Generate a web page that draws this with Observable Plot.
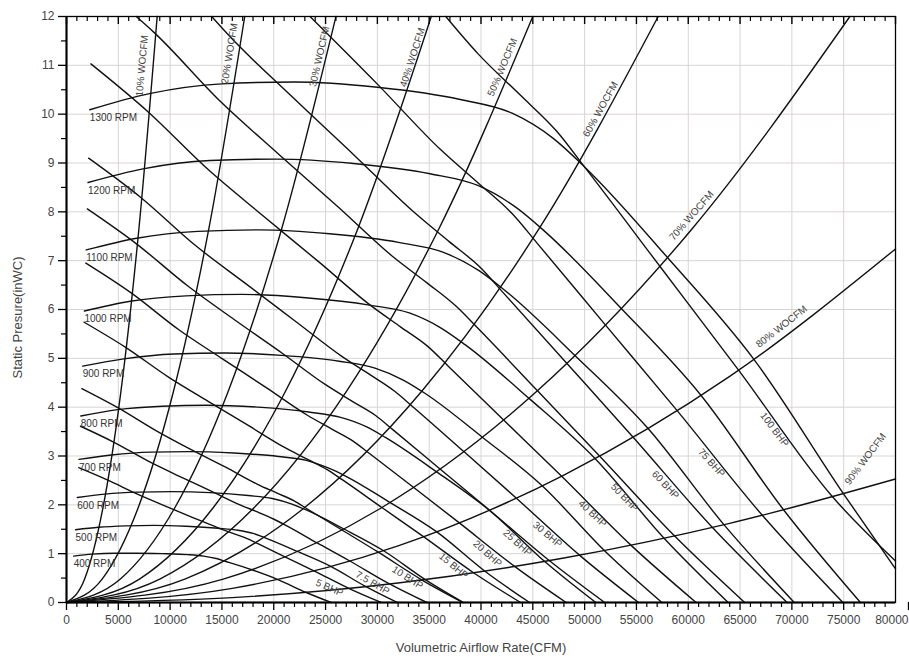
<!DOCTYPE html>
<html><head><meta charset="utf-8">
<script src="https://cdn.jsdelivr.net/npm/d3@7"></script>
<script src="https://cdn.jsdelivr.net/npm/@observablehq/plot@0.6"></script>
<style>
body{margin:0;background:#fff;}
#chart svg{display:block;}
</style></head><body><div id="chart"></div>
<script>
// ---------- fan speed curves ----------
const rpmValues = [1300, 1200, 1100, 1000, 900, 800, 700, 600, 500, 400];
const rpmFlow = [
 [2250, 8000, 15000, 22000, 30000, 38000, 43000, 47000, 50000, 58100, 66300, 75000, 80000],
 [2080, 7380, 13850, 20310, 27690, 35080, 39690, 43380, 46150, 53630, 61200, 69230, 76620],
 [1900, 6770, 12690, 18620, 25380, 32150, 36380, 39770, 42310, 49160, 56100, 63460, 70230],
 [1730, 6150, 11540, 16920, 23080, 29230, 33080, 36150, 38460, 44690, 51000, 57690, 63850],
 [1560, 5540, 10380, 15230, 20770, 26310, 29770, 32540, 34620, 40220, 45900, 51920, 57460],
 [1380, 4920, 9230, 13540, 18460, 23380, 26460, 28920, 30770, 35750, 40800, 46150, 51080],
 [1210, 4310, 8080, 11850, 16150, 20460, 23150, 25310, 26920, 31280, 35700, 40380, 44690],
 [1040, 3690, 6920, 10150, 13850, 17540, 19850, 21690, 23080, 26820, 30600, 34620, 38310],
 [870, 3080, 5770, 8460, 11540, 14620, 16540, 18080, 19230, 22350, 25500, 28850, 31920],
 [690, 2460, 4620, 6770, 9230, 11690, 13230, 14460, 15380, 17880, 20400, 23080, 25540]
];
const rpmPressure = [
 [10.09, 10.42, 10.62, 10.66, 10.55, 10.30, 10.02, 9.50, 8.92, 7.04, 4.99, 2.22, 0.69],
 [8.60, 8.88, 9.05, 9.08, 8.99, 8.78, 8.54, 8.09, 7.60, 6.00, 4.25, 1.89, 0],
 [7.22, 7.46, 7.60, 7.63, 7.55, 7.37, 7.17, 6.80, 6.39, 5.04, 3.57, 1.59, 0],
 [5.97, 6.17, 6.28, 6.31, 6.24, 6.09, 5.93, 5.62, 5.28, 4.17, 2.95, 1.31, 0],
 [4.84, 4.99, 5.09, 5.11, 5.06, 4.94, 4.80, 4.55, 4.28, 3.37, 2.39, 1.06, 0],
 [3.82, 3.95, 4.02, 4.04, 4.00, 3.90, 3.79, 3.60, 3.38, 2.67, 1.89, 0.84, 0],
 [2.93, 3.02, 3.08, 3.09, 3.06, 2.99, 2.91, 2.75, 2.59, 2.04, 1.45, 0.64, 0],
 [2.15, 2.22, 2.26, 2.27, 2.25, 2.19, 2.13, 2.02, 1.90, 1.50, 1.06, 0.47, 0],
 [1.49, 1.54, 1.57, 1.58, 1.56, 1.52, 1.48, 1.41, 1.32, 1.04, 0.74, 0.33, 0],
 [0.95, 0.99, 1.01, 1.01, 1.00, 0.98, 0.95, 0.90, 0.84, 0.67, 0.47, 0.21, 0]
];

// ---------- system lines (% of wide-open CFM) ----------
const wocfmPct = ["10%", "20%", "30%", "40%", "50%", "60%", "70%", "80%", "90%"];
const wocfmFlow = [
 [0, 1750, 3500, 5250, 7000, 8750],
 [0, 3440, 6880, 10320, 13760, 17200],
 [0, 5200, 10400, 15600, 20800, 26000],
 [0, 7040, 14080, 21120, 28160, 35200],
 [0, 9000, 18000, 27000, 36000, 45000],
 [0, 11420, 22840, 34260, 45680, 57100],
 [0, 15120, 30240, 45360, 60480, 75600],
 [0, 16000, 32000, 48000, 64000, 80000],
 [0, 16000, 32000, 48000, 64000, 80000]
];
const wocfmPressure = [
 [0, 0.48, 1.92, 4.32, 7.68, 12],
 [0, 0.48, 1.92, 4.32, 7.68, 12],
 [0, 0.48, 1.92, 4.32, 7.68, 12],
 [0, 0.48, 1.92, 4.32, 7.68, 12],
 [0, 0.48, 1.92, 4.32, 7.68, 12],
 [0, 0.48, 1.92, 4.32, 7.68, 12],
 [0, 0.48, 1.92, 4.32, 7.68, 12],
 [0, 0.29, 1.16, 2.61, 4.63, 7.24],
 [0, 0.10, 0.40, 0.91, 1.62, 2.53]
];
const wocfmLabelFlow = [7290, 15730, 24410, 33390, 42070, 51530, 60310, 69000, 77100];
const wocfmLabelPressure = [10.99, 11.24, 11.18, 11.16, 10.96, 10.10, 7.92, 5.65, 2.94];

// ---------- brake horsepower lines ----------
const bhpValues = ["5", "7.5", "10", "15", "20", "25", "30", "40", "50", "60", "75", "100"];
const bhpFlow = [
 [1176, 3930, 6851, 9480, 12190, 14630, 16130, 17440, 18420, 21130, 23870, 27240, 30370],
 [1346, 4498, 7842, 10850, 13960, 16740, 18470, 19970, 21080, 24190, 27340, 31170, 34770],
 [1482, 4950, 8631, 11940, 15360, 18430, 20320, 21970, 23200, 26620, 30090, 34310, 38260],
 [1696, 5669, 9879, 13670, 17580, 21090, 23270, 25160, 26570, 30470, 34450, 39280, 43820],
 [1867, 6238, 10875, 15050, 19350, 23210, 25610, 27690, 29240, 33540, 37910, 43240, 48220],
 [2011, 6718, 11715, 16210, 20850, 25000, 27580, 29830, 31490, 36130, 40830, 46580, 51940],
 [2137, 7140, 12450, 17230, 22150, 26570, 29320, 31700, 33470, 38400, 43390, 49500, 55200],
 [2352, 7858, 13700, 18960, 24380, 29250, 32260, 34890, 36840, 42260, 47760, 54490, 60760],
 [6730, 8466, 14760, 20420, 26270, 31510, 34760, 37580, 39680, 45520, 51440, 58690, 65440],
 [14010, 15680, 21700, 27910, 33490, 36930, 39940, 42160, 48360, 54660, 62360, 69540],
 [23500, 30070, 36070, 39780, 43020, 45410, 52100, 58890, 67170, 74920],
 [36600, 39700, 43790, 47350, 49990, 57350, 64820, 73940, 80000]
];
const bhpPressure = [
 [2.76, 2.51, 2.22, 1.98, 1.74, 1.53, 1.41, 1.31, 1.21, 0.93, 0.65, 0.29, 0],
 [3.61, 3.29, 2.90, 2.59, 2.28, 2.00, 1.85, 1.71, 1.59, 1.22, 0.85, 0.38, 0],
 [4.38, 3.99, 3.52, 3.14, 2.77, 2.42, 2.24, 2.08, 1.92, 1.48, 1.03, 0.46, 0],
 [5.74, 5.23, 4.61, 4.12, 3.62, 3.17, 2.93, 2.72, 2.52, 1.94, 1.35, 0.61, 0],
 [6.95, 6.34, 5.58, 4.99, 4.39, 3.84, 3.55, 3.30, 3.05, 2.35, 1.63, 0.74, 0],
 [8.06, 7.35, 6.48, 5.79, 5.10, 4.46, 4.12, 3.83, 3.54, 2.72, 1.89, 0.86, 0],
 [9.10, 8.30, 7.31, 6.54, 5.75, 5.04, 4.66, 4.32, 4.00, 3.08, 2.14, 0.97, 0],
 [11.03, 10.05, 8.86, 7.92, 6.97, 6.10, 5.64, 5.24, 4.84, 3.72, 2.59, 1.17, 0],
 [12, 11.67, 10.28, 9.19, 8.09, 7.08, 6.55, 6.07, 5.62, 4.32, 3.00, 1.36, 0],
 [12, 11.61, 10.37, 9.13, 8.00, 7.39, 6.86, 6.34, 4.88, 3.39, 1.53, 0],
 [12, 10.60, 9.28, 8.58, 7.96, 7.36, 5.66, 3.94, 1.78, 0],
 [12, 11.24, 10.39, 9.64, 8.92, 6.86, 4.77, 2.16, 0.85]
];
const bhpLabelFlow = [25380, 29530, 32910, 37350, 40630, 43520, 46420, 50760, 53850, 57800, 62240, 68320];
const bhpLabelPressure = [0.30, 0.40, 0.51, 0.75, 1.00, 1.22, 1.39, 1.82, 2.15, 2.41, 2.86, 3.54];

// ---------- axis ticks ----------
const xMajor = d3.range(0, 80001, 5000);
const xMinor = d3.range(1000, 80000, 1000).filter(d => d % 5000 !== 0);
const yMajor = d3.range(0, 13, 1);
const yMinor = d3.range(0.5, 12, 1);

// ---------- build tables ----------
function rows(names, flows, pressures, prefix) {
  const out = [];
  names.forEach((n, i) => flows[i].forEach((q, j) => out.push({curve: prefix + n, Q: q, P: pressures[i][j]})));
  return out;
}
const rpmRows = rows(rpmValues, rpmFlow, rpmPressure, "rpm");
const wocfmRows = rows(wocfmPct, wocfmFlow, wocfmPressure, "wo");
const bhpRows = rows(bhpValues, bhpFlow, bhpPressure, "bhp");

const rpmLabels = rpmValues.map((r, i) => ({text: r + " RPM", Q: rpmFlow[i][0], P: rpmPressure[i][0]}));
const woRot = [-85, -81, -77, -72, -67, -61, -49, -38, -53];
const wocfmLabels = wocfmPct.map((p, i) => ({text: p + " WOCFM", Q: wocfmLabelFlow[i], P: wocfmLabelPressure[i], r: woRot[i]}));
const bhpRot = [24, 30, 33, 40, 42, 42, 40, 43, 46, 47, 48, 53];
const bhpLabels = bhpValues.map((b, i) => ({text: b + " BHP", Q: bhpLabelFlow[i], P: bhpLabelPressure[i], r: bhpRot[i]}));

const font = "'Liberation Sans', Arial, sans-serif";
const lineStyle = {x: "Q", y: "P", z: "curve", curve: "monotone-x", stroke: "#111", strokeWidth: 1.4};
const xLabeled = xMajor.slice(0, -1);
const xLast = xMajor.slice(-1);
const W = 909, H = 662, mT = 16, mB = 60;
const frameH = H - mT - mB;

const chart = Plot.plot({
  width: W, height: H,
  marginLeft: 66, marginRight: 14, marginTop: mT, marginBottom: mB,
  style: {fontFamily: font, background: "#fff"},
  x: {domain: [0, 80000]},
  y: {domain: [0, 12]},
  marks: [
    Plot.gridX(xMajor, {stroke: "#d9d4d4", strokeOpacity: 1}),
    Plot.gridY(yMajor, {stroke: "#d9d4d4", strokeOpacity: 1}),
    Plot.line(wocfmRows, lineStyle),
    Plot.line(rpmRows, lineStyle),
    Plot.line(bhpRows, lineStyle),
    Plot.text(rpmLabels, {x: "Q", y: "P", text: "text", textAnchor: "start", dy: 8, fontSize: 10, fill: "#333"}),
    Plot.text(wocfmLabels, {x: "Q", y: "P", text: "text", rotate: "r", fontSize: 10, fill: "#444"}),
    Plot.text(bhpLabels, {x: "Q", y: "P", text: "text", rotate: "r", fontSize: 10, fill: "#444"}),
    Plot.frame({stroke: "#000", strokeWidth: 1.3}),
    Plot.ruleX([0], {stroke: "#000", strokeWidth: 2}),
    Plot.ruleY([0], {stroke: "#000", strokeWidth: 2}),
    // inward ticks hanging from the top frame
    Plot.ruleX(xMajor, {x: d => d, insetBottom: frameH - 8, stroke: "#000", strokeWidth: 1.4}),
    Plot.ruleX(xMinor, {x: d => d, insetBottom: frameH - 5, stroke: "#000", strokeWidth: 1.2}),
    Plot.axisX(xLabeled, {anchor: "bottom", tickSize: 8, tickPadding: 5, tickFormat: d => String(d), fontSize: 12, fill: "#444", stroke: "#000", strokeWidth: 1.3, label: null}),
    Plot.axisX(xLast, {anchor: "bottom", tickSize: 8, tickPadding: 5, tickFormat: d => String(d), textAnchor: "end", dx: 13, fontSize: 12, fill: "#444", stroke: "#000", strokeWidth: 1.3, label: null}),
    Plot.axisX(xMinor, {anchor: "bottom", tickSize: 5, text: null, stroke: "#000", strokeWidth: 1.2, label: null}),
    Plot.axisY(yMajor, {anchor: "left", tickSize: 8, tickPadding: 4, fontSize: 12, fill: "#444", stroke: "#000", strokeWidth: 1.3, label: null}),
    Plot.axisY(yMinor, {anchor: "left", tickSize: 5, text: null, stroke: "#000", strokeWidth: 1.2, label: null}),
    Plot.text(["Volumetric Airflow Rate(CFM)"], {frameAnchor: "bottom", textAnchor: "middle", dy: 49, fontSize: 13, fill: "#444"}),
    Plot.text(["Static Presure(inWC)"], {frameAnchor: "left", textAnchor: "middle", dx: -49, dy: 8, rotate: -90, fontSize: 13, fill: "#444"})
  ]
});
document.getElementById("chart").append(chart);
</script>
</body></html>
